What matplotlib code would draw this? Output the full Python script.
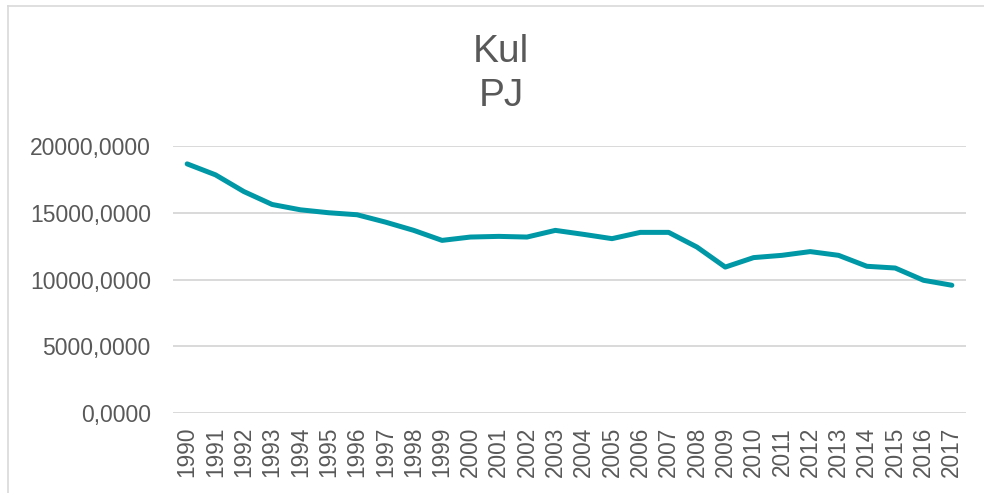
import matplotlib
matplotlib.use('Agg')
import matplotlib.pyplot as plt
from matplotlib.ticker import FuncFormatter
from matplotlib.lines import Line2D

years = [str(y) for y in range(1990, 2018)]
kul_pj = [18660, 17840, 16590, 15620, 15220, 15000, 14850, 14300, 13680, 12930,
          13180, 13230, 13180, 13680, 13380, 13060, 13530, 13530, 12430, 10930,
          11640, 11810, 12090, 11810, 10990, 10860, 9940, 9570]
y_ticks = [0, 5000, 10000, 15000, 20000]

plt.rcParams['font.family'] = ['Liberation Sans', 'DejaVu Sans']
text_col = '#595959'

fig = plt.figure(figsize=(9.84, 4.93), dpi=100)
ax = fig.add_axes([173 / 984, 80 / 493, 793 / 984, 267 / 493])

ax.plot(range(len(years)), kul_pj, color='#0098A6', linewidth=3.6,
        solid_capstyle='round', solid_joinstyle='round', zorder=3)

ax.set_xlim(-0.5, len(years) - 0.5)
ax.set_ylim(0, 20000)
ax.set_yticks(y_ticks)
ax.yaxis.set_major_formatter(FuncFormatter(lambda v, p: f"{v:.4f}".replace('.', ',')))
ax.set_xticks(range(len(years)))
ax.set_xticklabels(years, rotation=90)

ax.grid(axis='y', color='#D9D9D9', linewidth=1.4)
ax.set_axisbelow(True)
for s in ax.spines.values():
    s.set_visible(False)
ax.tick_params(axis='y', length=0, pad=16, labelsize=16.5, labelcolor=text_col)
ax.tick_params(axis='x', length=0, pad=10, labelsize=16.3, labelcolor=text_col)

fig.text(501 / 984, 1 - 62 / 493, 'Kul', ha='center', va='baseline', fontsize=28, color=text_col)
fig.text(501 / 984, 1 - 106 / 493, 'PJ', ha='center', va='baseline', fontsize=28, color=text_col)

# chart border
fig.add_artist(Line2D([8 / 984, 8 / 984], [0, 1 - 6 / 493], transform=fig.transFigure,
                      color='#D9D9D9', linewidth=1.2))
fig.add_artist(Line2D([8 / 984, 1], [1 - 6 / 493, 1 - 6 / 493], transform=fig.transFigure,
                      color='#D9D9D9', linewidth=1.2))

fig.savefig('out.png', dpi=100)
